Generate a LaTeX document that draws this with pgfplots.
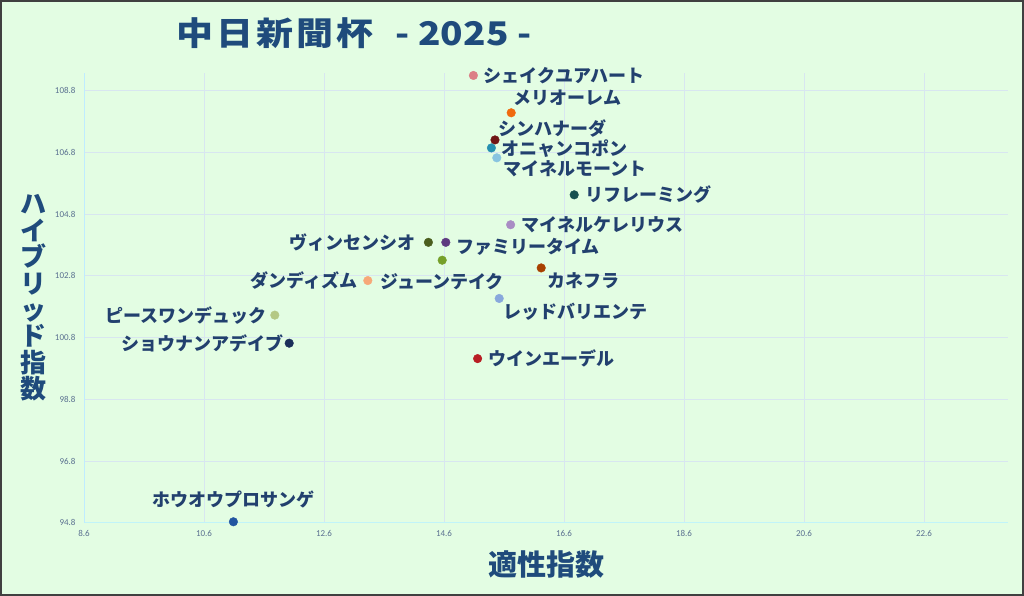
\documentclass[border=0pt]{standalone}
\usepackage{fontspec}
\usepackage{pgfplots}
\pgfplotsset{compat=1.18}
\setmainfont{Carlito}
\newfontfamily\jp{Noto Sans CJK JP}

\definecolor{bg}{HTML}{E3FDE3}
\definecolor{frame}{HTML}{404040}
\definecolor{titlecol}{HTML}{1F4B7C}
\definecolor{labelcol}{HTML}{22406E}
\definecolor{tickcol}{HTML}{5A7090}
\definecolor{gridcol}{HTML}{D8E6F0}

\pgfplotsset{
  horse/.style n args={4}{
    only marks, mark=*, mark size=4.3pt, color=#1,
    nodes near coords={#2},
    every node near coord/.append style={anchor=#3, #4},
  },
}

\begin{document}
\begin{tikzpicture}
\useasboundingbox (0,0) rectangle (1024pt,596pt);
\draw[line width=2pt, draw=frame, fill=bg] (1pt,1pt) rectangle (1023pt,595pt);

% title and axis titles
\node[text=titlecol, font=\fontsize{37}{37}\jp\bfseries] at (354pt,563pt)
  {\scalebox{1}[0.88]{中\kern3pt 日\kern3pt 新\kern3pt 聞\kern3pt 杯\hspace{22pt}- 2025 -}};
\node[text=titlecol, font=\fontsize{29}{29}\jp\bfseries] at (546pt,31pt) {適性指数};
\node[text=titlecol, font=\fontsize{26}{26.4}\jp\bfseries, align=center] at (33pt,298pt)
  {ハ\\イ\\ブ\\リ\\ッ\\ド\\指\\数};

\begin{axis}[
  at={(84pt,73.3pt)}, anchor=south west,
  scale only axis, width=924pt, height=449.7pt,
  xmin=8.6, xmax=24.0, ymin=94.8, ymax=109.38,
  xtick={8.6,10.6,12.6,14.6,16.6,18.6,20.6,22.6},
  ytick={94.8,96.8,98.8,100.8,102.8,104.8,106.8,108.8},
  /pgf/number format/.cd, fixed, fixed zerofill, precision=1, assume math mode=true,
  /pgfplots/.cd,
  axis lines=left,
  axis line style={-},
  x axis line style={draw=gridcol!70!cyan!60, line width=0.9pt},
  y axis line style={draw=blue!30!cyan!25, line width=0.9pt},
  major tick length=0pt,
  grid=major,
  major grid style={draw=gridcol, line width=0.9pt},
  ticklabel style={font=\fontsize{9}{9}\selectfont, text=tickcol},
  xticklabel style={yshift=-4pt},
  yticklabel style={xshift=-5pt},
  clip=false,
  every node near coord/.append style={font=\fontsize{18}{18}\jp\bfseries, text=labelcol, inner sep=0pt},
]
\definecolor{c1}{HTML}{DC7F86}
\definecolor{c2}{HTML}{F06A0E}
\definecolor{c3}{HTML}{701515}
\definecolor{c4}{HTML}{2590B0}
\definecolor{c5}{HTML}{88C4E0}
\definecolor{c6}{HTML}{175050}
\definecolor{c7}{HTML}{A98CC4}
\definecolor{c8}{HTML}{4B5E1E}
\definecolor{c9}{HTML}{5E3A80}
\definecolor{c10}{HTML}{76A02A}
\definecolor{c11}{HTML}{F7A878}
\definecolor{c12}{HTML}{A84000}
\definecolor{c13}{HTML}{88A8DC}
\definecolor{c14}{HTML}{B81E24}
\definecolor{c15}{HTML}{B4C884}
\definecolor{c16}{HTML}{1B2F5A}
\definecolor{c17}{HTML}{2255A0}

\addplot[horse={c1}{シェイクユアハート}{west}{xshift=10pt}] coordinates {(15.09,109.30)};
\addplot[horse={c2}{メリオーレム}{west}{xshift=2pt,yshift=15pt}] coordinates {(15.72,108.09)};
\addplot[horse={c3}{シンハナーダ}{west}{xshift=3pt,yshift=11pt}] coordinates {(15.45,107.21)};
\addplot[horse={c4}{オニャンコポン}{west}{xshift=10pt,yshift=-1pt}] coordinates {(15.39,106.95)};
\addplot[horse={c5}{マイネルモーント}{west}{xshift=6pt,yshift=-11pt}] coordinates {(15.48,106.63)};
\addplot[horse={c6}{リフレーミング}{west}{xshift=11pt}] coordinates {(16.77,105.43)};
\addplot[horse={c7}{マイネルケレリウス}{west}{xshift=11pt}] coordinates {(15.71,104.46)};
\addplot[horse={c8}{ヴィンセンシオ}{east}{xshift=-13pt}] coordinates {(14.34,103.89)};
\addplot[horse={c9}{ファミリータイム}{west}{xshift=10pt,yshift=-4pt}] coordinates {(14.63,103.89)};
\addplot[horse={c10}{ジューンテイク}{center}{yshift=-21pt}] coordinates {(14.57,103.31)};
\addplot[horse={c11}{ダンディズム}{east}{xshift=-10pt}] coordinates {(13.33,102.65)};
\addplot[horse={c12}{カネフラ}{west}{xshift=6pt,yshift=-13pt}] coordinates {(16.22,103.06)};
\addplot[horse={c13}{レッドバリエンテ}{west}{xshift=4pt,yshift=-13pt}] coordinates {(15.52,102.07)};
\addplot[horse={c14}{ウインエーデル}{west}{xshift=11pt}] coordinates {(15.16,100.12)};
\addplot[horse={c15}{ピースワンデュック}{east}{xshift=-8pt}] coordinates {(11.78,101.53)};
\addplot[horse={c16}{ショウナンアデイブ}{east}{xshift=-6pt}] coordinates {(12.02,100.62)};
\addplot[horse={c17}{ホウオウプロサンゲ}{center}{yshift=22pt}] coordinates {(11.09,94.83)};
\end{axis}
\end{tikzpicture}
\end{document}
